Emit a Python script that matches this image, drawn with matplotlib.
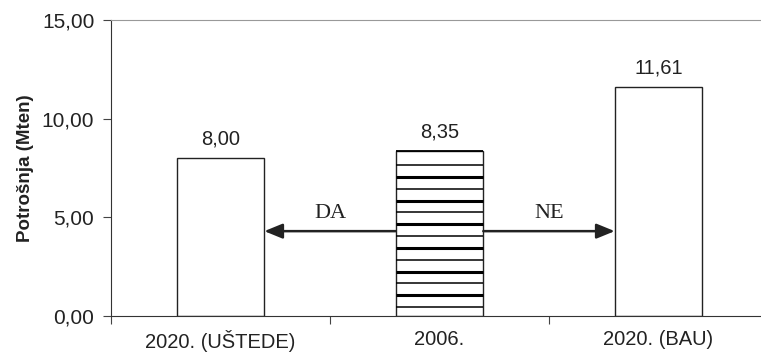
import numpy as np
import matplotlib
matplotlib.use("Agg")
import matplotlib.pyplot as plt
from matplotlib.ticker import FixedLocator, FuncFormatter

# data
categories = ["2020. (UŠTEDE)", "2006.", "2020. (BAU)"]
values = [8.00, 8.35, 11.61]
value_labels = ["8,00", "8,35", "11,61"]
y_ticks = [0, 5, 10, 15]
arrow_texts = ["DA", "NE"]
arrow_level = 4.3

plt.rcParams["font.family"] = ["Liberation Sans", "DejaVu Sans"]

fig = plt.figure(figsize=(7.61, 3.52), dpi=100)
ax = fig.add_axes([111 / 761, 1 - 316 / 352, 657 / 761, 296 / 352])

x = np.arange(len(categories)) + 0.5
width = 0.4
bars = ax.bar(x, values, width=width, color="white", edgecolor="#222222",
              linewidth=1.0, zorder=2)

# striped middle bar (alternating thin / thick horizontal lines)
mid = 1
levels = np.arange(0.45, values[mid] - 0.3, 0.6)
for i, lv in enumerate(levels):
    ax.hlines(lv, x[mid] - width / 2, x[mid] + width / 2, color="black",
              linewidth=2.2 if i % 2 else 1.1, zorder=3)
ax.hlines(values[mid], x[mid] - width / 2, x[mid] + width / 2, color="black",
          linewidth=1.3, zorder=3)

for xi, v, lab in zip(x, values, value_labels):
    ax.annotate(lab, (xi, v), xytext=(0, 7), textcoords="offset points",
                ha="center", va="bottom", fontsize=14.5, color="#222222")

# arrows from the 2006 bar to both 2020 scenarios
arrow_kw = dict(arrowstyle="-|>,head_length=1.1,head_width=0.45",
                color="#222222", linewidth=1.8, shrinkA=0, shrinkB=0)
ax.annotate("", xy=(x[0] + width / 2, arrow_level),
            xytext=(x[1] - width / 2, arrow_level), arrowprops=arrow_kw, zorder=4)
ax.annotate("", xy=(x[2] - width / 2, arrow_level),
            xytext=(x[1] + width / 2, arrow_level), arrowprops=arrow_kw, zorder=4)
ax.text((x[0] + x[1]) / 2, arrow_level + 0.9, arrow_texts[0], ha="center",
        va="center", fontsize=16, family="Liberation Serif", color="#222222")
ax.text((x[1] + x[2]) / 2, arrow_level + 0.9, arrow_texts[1], ha="center",
        va="center", fontsize=16, family="Liberation Serif", color="#222222")

ax.set_xlim(0, len(categories))
ax.set_ylim(0, 15)
ax.set_yticks(y_ticks)
ax.yaxis.set_major_formatter(FuncFormatter(lambda v, p: f"{v:.2f}".replace(".", ",")))
ax.set_xticks(np.arange(len(categories) + 1))
ax.set_xticklabels([])
ax.xaxis.set_minor_locator(FixedLocator(x))
ax.set_xticklabels(categories, minor=True)
ax.tick_params(axis="x", which="minor", length=0, pad=10, labelsize=14.5,
               labelcolor="#222222")
ax.tick_params(axis="x", which="major", length=6, direction="out", color="#444444")
ax.tick_params(axis="y", length=6, direction="out", labelsize=15,
               labelcolor="#222222", color="#444444", pad=6)

ax.set_ylabel("Potrošnja (Mten)", fontsize=13.5, fontweight="bold",
              color="#222222", labelpad=6)

ax.spines["right"].set_visible(False)
ax.spines["top"].set_color("#999999")
ax.spines["left"].set_color("#333333")
ax.spines["bottom"].set_color("#333333")

fig.savefig("out.png", dpi=100)
